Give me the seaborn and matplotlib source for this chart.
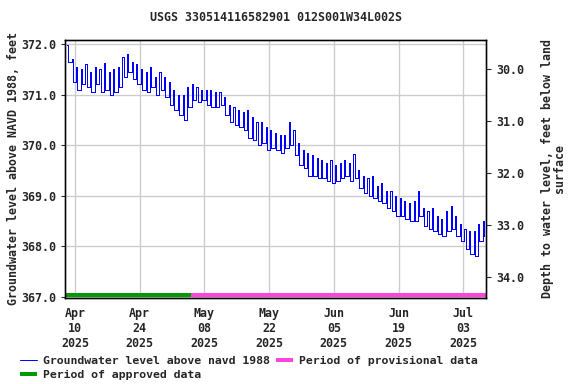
import pandas as pd
import matplotlib
matplotlib.use("Agg")
import matplotlib.pyplot as plt
import matplotlib.dates as mdates
import seaborn as sns

# Daily high / low groundwater level (ft above NAVD 1988), Apr 8 - Jul 7 2025
start_day = "2025-04-08"
daily_high = [
    371.98, 371.70, 371.55, 371.50, 371.60, 371.45, 371.55, 371.50, 371.62, 371.45,
    371.50, 371.55, 371.75, 371.80, 371.65, 371.60, 371.50, 371.45, 371.55, 371.35,
    371.45, 371.35, 371.25, 371.10, 371.00, 371.00, 371.15, 371.20, 371.15, 371.10,
    371.10, 371.10, 371.05, 371.05, 370.95, 370.80, 370.75, 370.70, 370.65, 370.70,
    370.55, 370.45, 370.45, 370.35, 370.30, 370.25, 370.20, 370.20, 370.45, 370.30,
    370.05, 369.90, 369.85, 369.80, 369.75, 369.70, 369.65, 369.70, 369.60, 369.65,
    369.70, 369.65, 369.82, 369.50, 369.40, 369.35, 369.40, 369.20, 369.25, 369.10,
    369.10, 369.00, 368.95, 368.90, 368.85, 368.90, 369.10, 368.75, 368.70, 368.75,
    368.60, 368.55, 368.70, 368.80, 368.60, 368.45, 368.35, 368.30, 368.30, 368.45,
    368.50,
]
daily_low = [
    371.65, 371.25, 371.10, 371.20, 371.15, 371.05, 371.20, 371.05, 371.10, 371.00,
    371.05, 371.15, 371.35, 371.45, 371.30, 371.20, 371.10, 371.05, 371.15, 371.00,
    371.10, 370.95, 370.80, 370.70, 370.60, 370.50, 370.75, 370.90, 370.85, 370.90,
    370.80, 370.75, 370.75, 370.80, 370.60, 370.45, 370.40, 370.35, 370.30, 370.15,
    370.10, 370.00, 370.05, 369.90, 369.95, 369.90, 369.85, 369.95, 370.00, 369.80,
    369.60, 369.55, 369.40, 369.40, 369.35, 369.35, 369.30, 369.25, 369.30, 369.35,
    369.40, 369.30, 369.35, 369.15, 369.05, 369.00, 368.95, 368.90, 368.85, 368.75,
    368.70, 368.60, 368.60, 368.55, 368.50, 368.50, 368.60, 368.40, 368.35, 368.30,
    368.25, 368.20, 368.30, 368.35, 368.20, 368.10, 367.95, 367.85, 367.80, 368.10,
    368.20,
]

approved_period = ["2025-04-07 20:00", "2025-05-05 02:00"]
provisional_period = ["2025-05-05 02:00", "2025-07-07 23:00"]
tick_dates = ["2025-04-10", "2025-04-24", "2025-05-08", "2025-05-22",
              "2025-06-05", "2025-06-19", "2025-07-03"]
left_ticks = [367.0, 368.0, 369.0, 370.0, 371.0, 372.0]
right_ticks = [30.0, 31.0, 32.0, 33.0, 34.0]


def main():
    days = pd.date_range(start_day, periods=len(daily_high), freq="D")
    rows = []
    for d, hi, lo in zip(days, daily_high, daily_low):
        # short daily peak, long trough
        rows.append((d + pd.Timedelta(hours=6), hi))
        rows.append((d + pd.Timedelta(hours=12), lo))
    df = pd.DataFrame(rows, columns=["time", "level"])

    sns.set_style("white")
    plt.rcParams["font.family"] = ["DejaVu Sans Mono"]
    plt.rcParams["font.weight"] = "bold"

    fig = plt.figure(figsize=(6, 4), dpi=96)
    ax = fig.add_axes([0.113, 0.224, 0.731, 0.672])

    sns.lineplot(data=df, x="time", y="level", ax=ax, color="#0000ff",
                 linewidth=0.75, drawstyle="steps-post",
                 label="Groundwater level above navd 1988")
    ax.lines[-1].set_antialiased(False)

    ap = pd.to_datetime(approved_period)
    pp = pd.to_datetime(provisional_period)
    ax.plot(ap, [367.04, 367.04], color="#009900", linewidth=3,
            solid_capstyle="butt", label="Period of approved data")
    ax.plot(pp, [367.04, 367.04], color="#ff44dd", linewidth=3,
            solid_capstyle="butt", label="Period of provisional data")

    ax.set_xlim(pd.Timestamp("2025-04-07 20:00"), pd.Timestamp("2025-07-07 23:00"))
    ax.set_ylim(366.98, 372.08)
    ax.set_xticks(pd.to_datetime(tick_dates))
    ax.xaxis.set_major_formatter(mdates.DateFormatter("%b\n%d\n%Y"))
    ax.set_yticks(left_ticks)
    ax.set_yticklabels([f"{v:.1f}" for v in left_ticks])
    ax.grid(True, color="#cccccc", linewidth=1)
    ax.tick_params(labelsize=8.7, length=3, direction="out")
    ax.set_xlabel("")
    ax.set_ylabel("Groundwater level above NAVD 1988, feet", fontsize=8.7,
                  fontweight="bold", labelpad=1)
    for s in ax.spines.values():
        s.set_color("black")
        s.set_linewidth(1)

    ax2 = ax.twinx()
    ax2.set_ylim(34.40, 29.44)
    ax2.set_yticks(right_ticks)
    ax2.set_yticklabels([f"{v:.1f}" for v in right_ticks])
    ax2.tick_params(labelsize=8.7, length=4, direction="out")
    ax2.set_ylabel("Depth to water level, feet below land\nsurface", fontsize=8.7,
                   fontweight="bold", labelpad=13, linespacing=0.9)
    for s in ax2.spines.values():
        s.set_color("black")
        s.set_linewidth(1)

    ax.set_title("USGS 330514116582901 012S001W34L002S", fontsize=8.7,
                 fontweight="bold", pad=14)

    handles, labels = ax.get_legend_handles_labels()
    ax.get_legend().remove()
    fig.legend(handles, labels, loc="lower left", bbox_to_anchor=(0.035, 0.01),
               ncol=2, frameon=False, fontsize=8.6, handlelength=1.5,
               handletextpad=0.5, columnspacing=0.5, labelspacing=0.4,
               borderpad=0, borderaxespad=0)

    fig.savefig("out.png", dpi=96)


if __name__ == "__main__":
    main()
